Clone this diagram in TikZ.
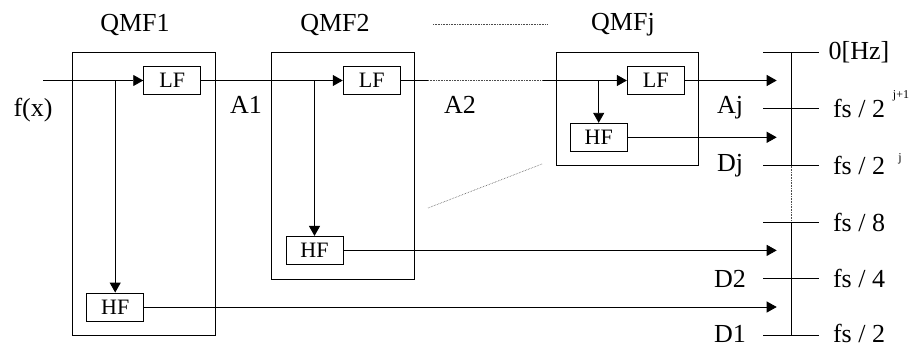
\documentclass[tikz,border=0pt]{standalone}
\usepackage{fontspec}
\setmainfont{Liberation Serif}
\usetikzlibrary{arrows.meta}
\tikzset{
  sig/.style={-{Triangle[length=10pt,width=11pt]}, line width=0.9pt},
  wire/.style={line width=0.9pt},
  dots/.style={densely dotted, line width=0.6pt, black!70},
  filt/.style={draw, line width=0.9pt, minimum width=57pt, minimum height=28pt, inner sep=0pt, font=\fontsize{22}{22}\selectfont},
  lab/.style={inner sep=0pt, font=\fontsize{26}{26}\selectfont},
  sup/.style={inner sep=0pt, font=\fontsize{12}{12}\selectfont}
}

\begin{document}
\begin{tikzpicture}[x=1pt, y=-1pt]
    \useasboundingbox (0,0) rectangle (920,347);
    % filter banks
    \draw[wire] (72.7,52.3) rectangle (215,335);
    \draw[wire] (271.7,52.3) rectangle (414.3,279);
    \draw[wire] (556.7,52.3) rectangle (698.7,165.7);
    \node[lab] (q1) at (135,25) {QMF1};
    \node[lab] (q2) at (335,25) {QMF2};
    \node[lab] (qj) at (623,25) {QMFj};
    \draw[dots] (433,24) -- (548,24);
    \draw[dots] (428,208) -- (542,164);
    \node[filt] (lf1) at (172.2,80.5) {LF};
    \node[filt] (hf1) at (115.2,307) {HF};
    \node[filt] (lf2) at (371.7,80.5) {LF};
    \node[filt] (hf2) at (314.5,250.4) {HF};
    \node[filt] (lfj) at (655.8,80.5) {LF};
    \node[filt] (hfj) at (598.7,137.3) {HF};
    \node[lab] (fx) at (33,110) {f(x)};
    \node[lab] (a1) at (246,105) {A1};
    \node[lab] (a2) at (460,105) {A2};
    \coordinate (in) at (43,80.5);
    \coordinate (gap1) at (428,80.5);
    \coordinate (gap2) at (543,80.5);
    \coordinate (tip) at (776.7,0);
    \draw[sig] (in) -- (lf1.west);
    \draw[sig] (hf1 |- lf1) -- (hf1.north);
    \draw[sig] (lf1.east) -- (lf2.west);
    \draw[sig] (hf2 |- lf2) -- (hf2.north);
    \draw[wire] (lf2.east) -- (gap1);
    \draw[dots] (gap1) -- (gap2);
    \draw[sig] (gap2) -- (lfj.west);
    \draw[sig] (hfj |- lfj) -- (hfj.north);
    \draw[sig] (lfj.east) -- (lfj.east -| tip);
    \draw[sig] (hfj.east) -- (hfj.east -| tip);
    \draw[sig] (hf2.east) -- (hf2.east -| tip);
    \draw[sig] (hf1.east) -- (hf1.east -| tip);
    % frequency axis
    \draw[wire] (791.7,52.3) -- (791.7,165.7);
    \draw[dots] (791.7,165.7) -- (791.7,222.3);
    \draw[wire] (791.7,222.3) -- (791.7,335);
    \foreach \y/\t [count=\i] in {52.3/{0[Hz]}, 108.3/{fs / 2}, 165.7/{fs / 2}, 222.3/{fs / 8}, 278.7/{fs / 4}, 333/{fs / 2}}{
      \node[lab] (f\i) at (859,\y) {\t};
    }
    \foreach \y in {52.3, 108.3, 165.7, 222.3, 278.7, 335}
      \draw[wire] (763.3,\y) -- (819.3,\y);
    \node[sup] (e1) at (901,96) {j+1};
    \node[sup] (e2) at (900,159) {j};
    \node[lab] (aj) at (730,108) {Aj};
    \node[lab] (dj) at (730,166) {Dj};
    \node[lab] (d2) at (730,279) {D2};
    \node[lab] (d1) at (730,334) {D1};
\end{tikzpicture}
\end{document}
